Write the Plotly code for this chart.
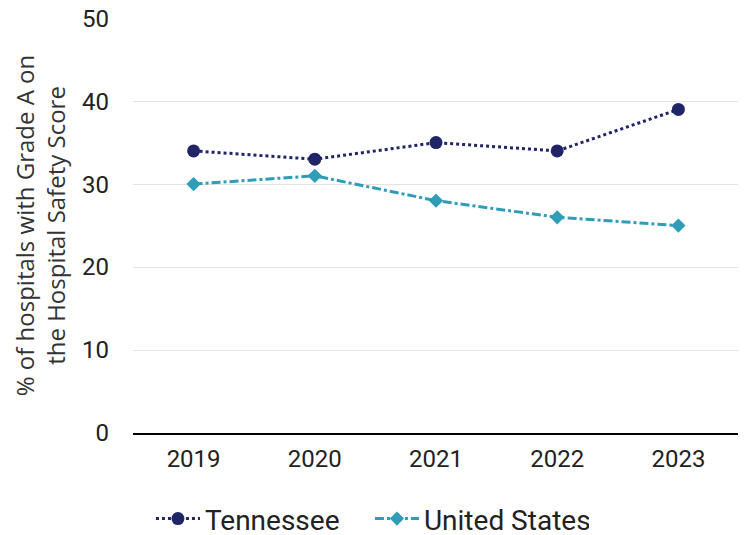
import plotly.graph_objects as go

years = ['2019', '2020', '2021', '2022', '2023']
tennessee = [34, 33, 35, 34, 39]
united_states = [30, 31, 28, 26, 25]

navy = '#1f2566'
teal = '#2f9db8'

fig = go.Figure()
fig.add_trace(go.Scatter(x=years, y=tennessee, name='Tennessee', mode='lines+markers',
                         line=dict(color=navy, width=3, dash='dot'),
                         marker=dict(symbol='circle', size=13, color=navy)))
fig.add_trace(go.Scatter(x=years, y=united_states, name='United States', mode='lines+markers',
                         line=dict(color=teal, width=3, dash='dashdot'),
                         marker=dict(symbol='diamond', size=11, color=teal)))

# the page body adds an 8px offset, so margins are shifted by that
fig.update_layout(
    width=746, height=535,
    margin=dict(l=125, r=15, t=10, b=110, autoexpand=False),
    paper_bgcolor='white', plot_bgcolor='white',
    font=dict(family='Roboto', size=24, color='#222222'),
    legend=dict(orientation='h', x=0.391, xanchor='center', y=-0.207, yanchor='middle',
                font=dict(size=28), itemwidth=44, entrywidth=160, entrywidthmode='pixels'),
    xaxis=dict(type='category', range=[-0.5, 4.5], showgrid=False, showline=True,
               linecolor='black', linewidth=2, ticks='', tickfont=dict(size=24),
               automargin=False, ticklabelstandoff=3),
    yaxis=dict(range=[0, 50.02], dtick=10, showgrid=True, gridcolor='#e3e3e3',
               zeroline=False, showline=False, tickfont=dict(size=24),
               ticklabelstandoff=23, automargin=False, ticklabeloverflow='allow',
               title=dict(text='% of hospitals with Grade A on<br>the Hospital Safety Score',
                          font=dict(family='Open Sans', size=24, color='#333333'),
                          standoff=16)),
)

fig.write_html("out.html")
